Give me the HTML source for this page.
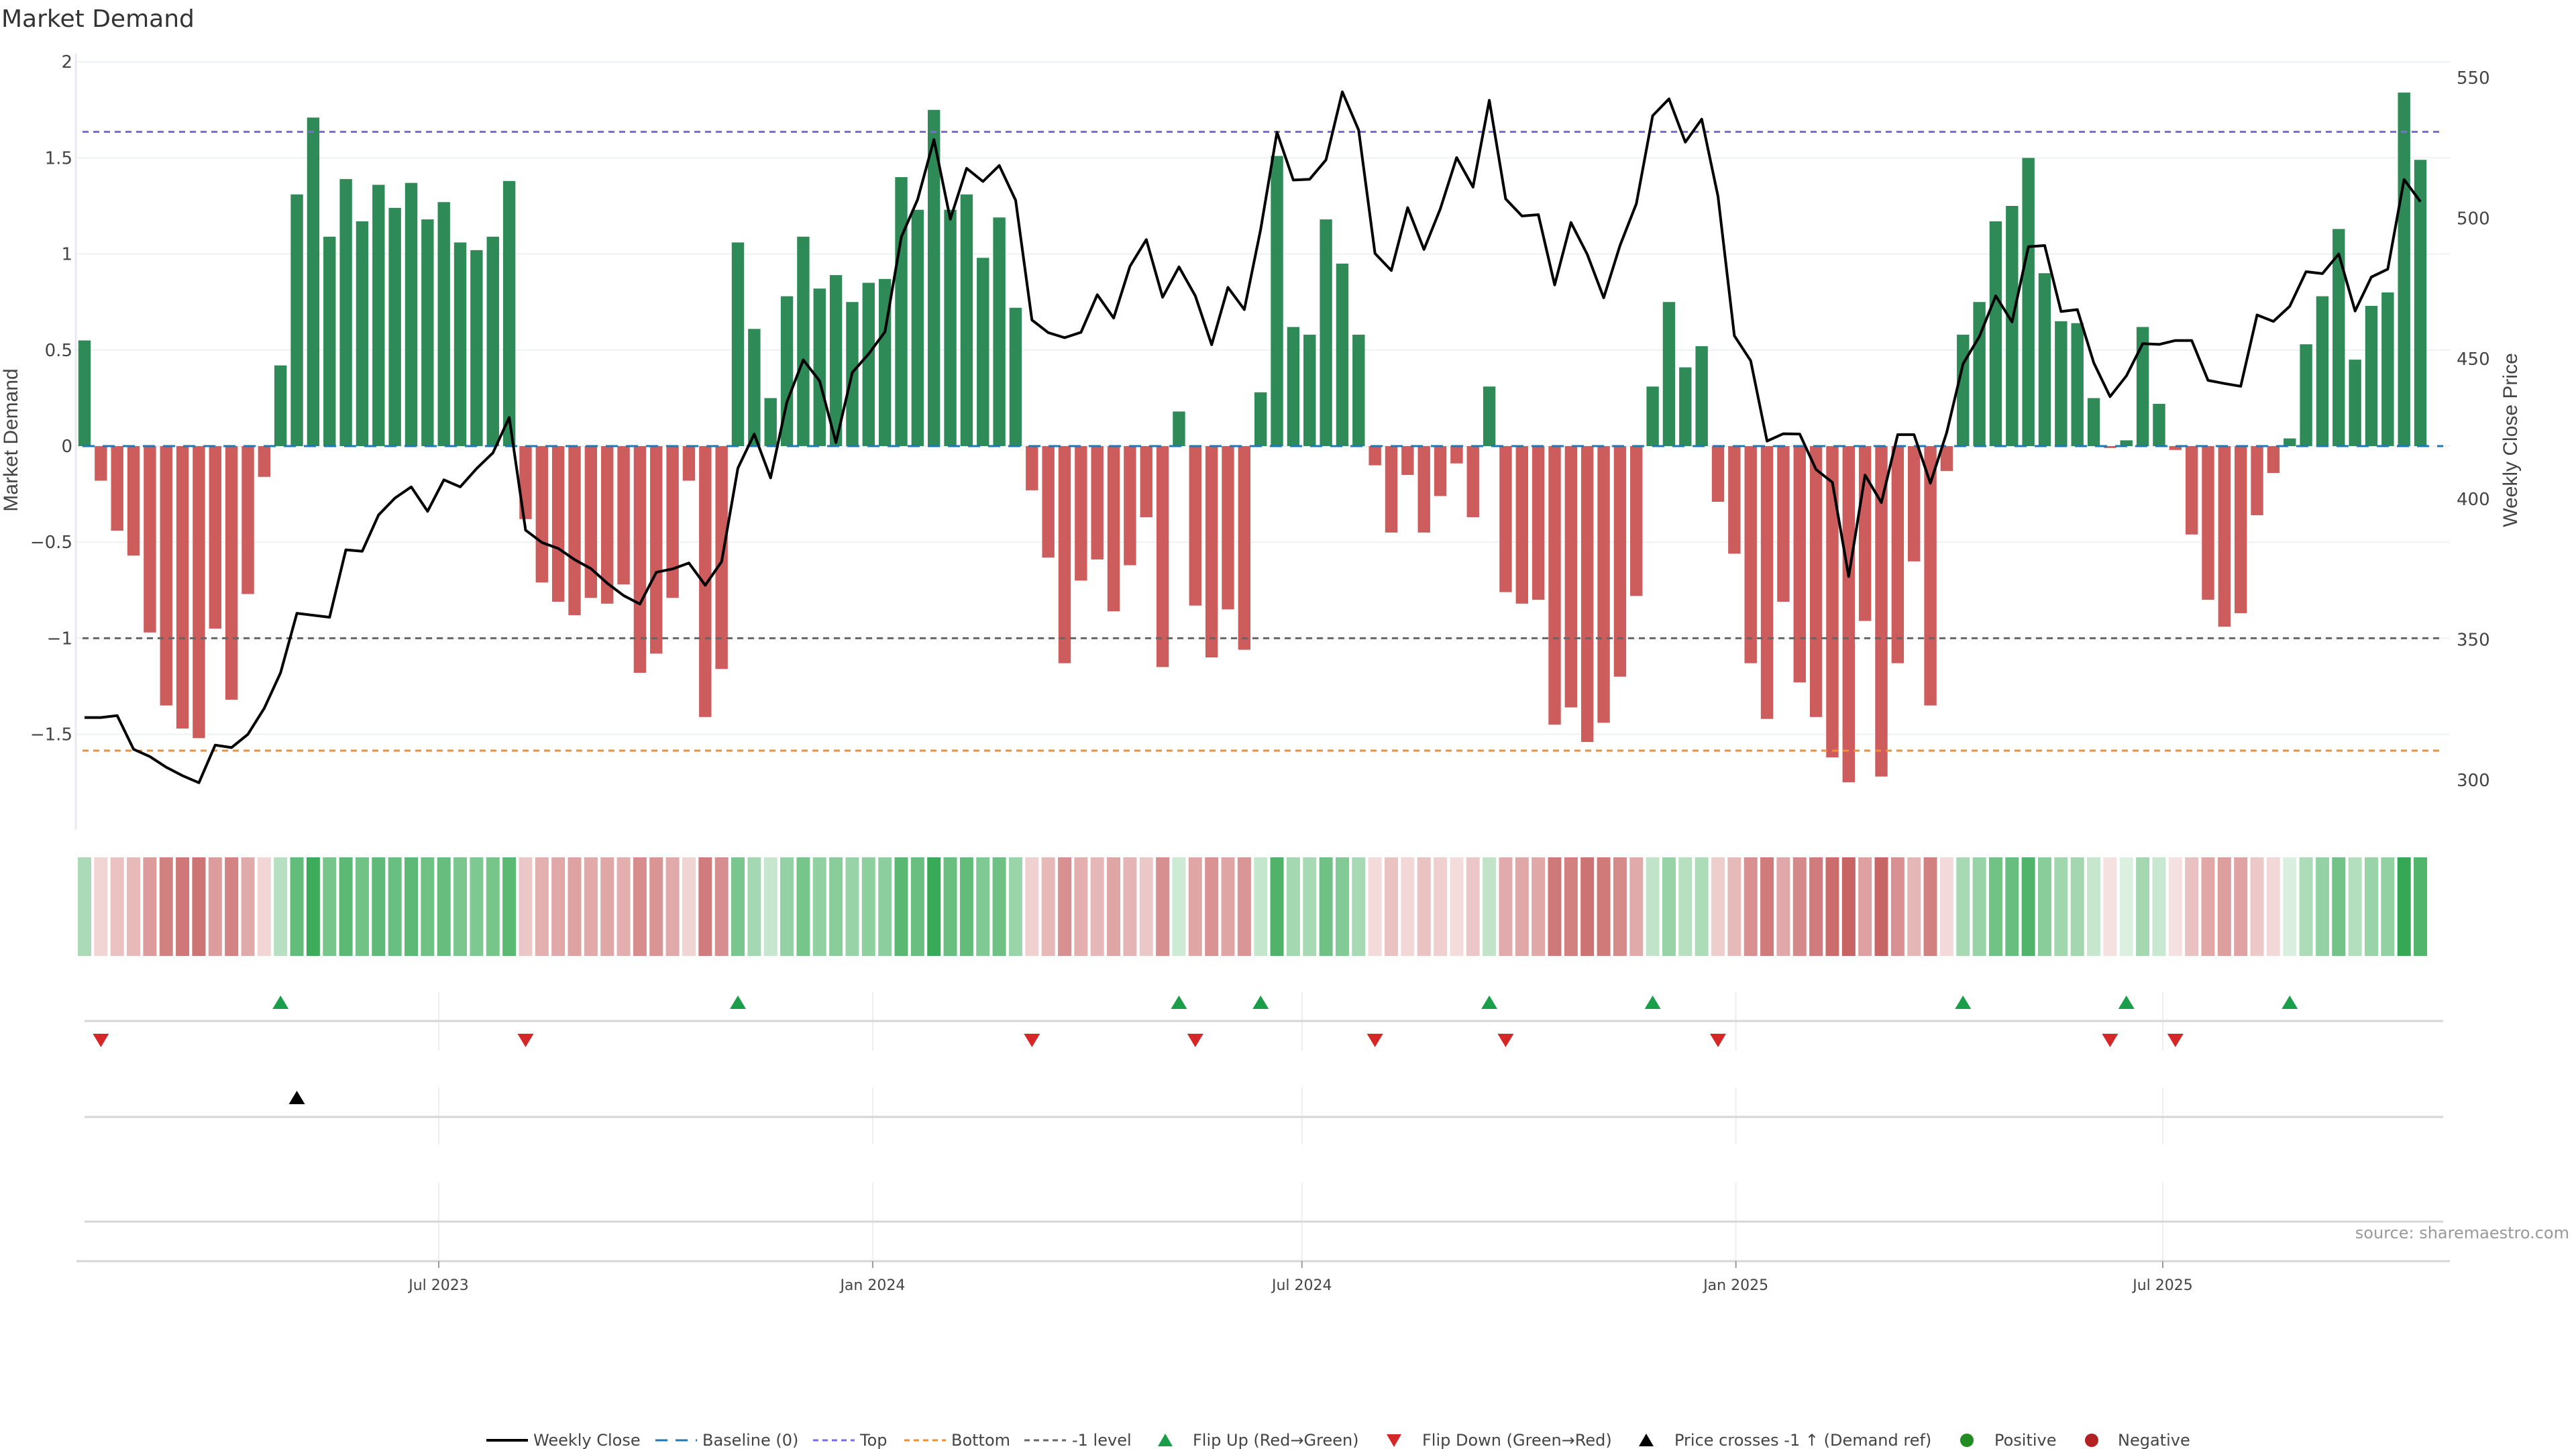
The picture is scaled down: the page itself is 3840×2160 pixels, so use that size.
<!DOCTYPE html>
<html><head><meta charset="utf-8"><style>
html,body{margin:0;padding:0;background:#fff;}
svg{display:block;font-family:"DejaVu Sans","Liberation Sans",sans-serif;}
</style></head><body>
<svg id="chart" width="3840" height="2160" viewBox="0 0 3840 2160" xmlns="http://www.w3.org/2000/svg">
<text x="2" y="40" font-size="36" fill="#333">Market Demand</text>
<g id="grid"></g><g id="bars"></g><g id="refs"></g><g id="line"></g><g id="axes"></g><g id="heat"></g><g id="markers"></g><g id="xaxis"></g><g id="legend"></g>
<text transform="translate(26,656) rotate(-90)" text-anchor="middle" font-size="30" fill="#444" font-family="Liberation Sans, sans-serif">Market Demand</text>
<text transform="translate(3752,656) rotate(-90)" text-anchor="middle" font-size="30" fill="#444" font-family="Liberation Sans, sans-serif">Weekly Close Price</text>
<text x="3830" y="1846" text-anchor="end" font-size="24" fill="#999">source: sharemaestro.com</text>
</svg>
<script>
const demand = [0.55,-0.18,-0.44,-0.57,-0.97,-1.35,-1.47,-1.52,-0.95,-1.32,-0.77,-0.16,
0.42,1.31,1.71,1.09,1.39,1.17,1.36,1.24,1.37,1.18,1.27,1.06,1.02,1.09,1.38,
-0.38,-0.71,-0.81,-0.88,-0.79,-0.82,-0.72,-1.18,-1.08,-0.79,-0.18,-1.41,-1.16,
1.06,0.61,0.25,0.78,1.09,0.82,0.89,0.75,0.85,0.87,1.40,1.23,1.75,1.23,1.31,0.98,1.19,0.72,
-0.23,-0.58,-1.13,-0.70,-0.59,-0.86,-0.62,-0.37,-1.15,0.18,-0.83,-1.10,-0.85,-1.06,
0.28,1.51,0.62,0.58,1.18,0.95,0.58,
-0.10,-0.45,-0.15,-0.45,-0.26,-0.09,-0.37,
0.31,
-0.76,-0.82,-0.80,-1.45,-1.36,-1.54,-1.44,-1.20,-0.78,
0.31,0.75,0.41,0.52,
-0.29,-0.56,-1.13,-1.42,-0.81,-1.23,-1.41,-1.62,-1.75,-0.91,-1.72,-1.13,-0.60,-1.35,-0.13,
0.58,0.75,1.17,1.25,1.50,0.90,0.65,0.64,0.25,
-0.01,
0.03,0.62,0.22,
-0.02,-0.46,-0.80,-0.94,-0.87,-0.36,-0.14,
0.04,0.53,0.78,1.13,0.45,0.73,0.80,1.84,1.49];
const closePrice = [322.3,322.3,323,311,308.4,304.6,301.6,299.1,312.5,311.6,316.3,325.6,
338.2,359.4,358.7,358,382,381.5,394.4,400.4,404.4,395.7,406.9,404.4,410.9,416.5,429.1,
389,384.6,382.5,378.5,375.3,370.1,365.7,362.7,374,
375.2,377.3,369.4,377.8,411.1,423.2,407.6,434.6,449.6,442.1,420.2,445.1,451.7,459.6,493.3,506.7,528,499.7,517.8,513.1,518.8,506.4,463.8,459.3,457.5,459.4,472.8,464.5,482.9,492.4,471.9,482.7,472.4,455,475.4,467.5,496,
530.6,513.6,513.9,520.8,545,531.4,487.5,481.4,503.8,488.9,503.4,521.6,511.1,542,506.9,500.8,501.3,476.3,498.5,487.1,471.7,490.3,505.2,536.5,542.5,527.1,535.3,507.8,458.2,449.3,420.7,423.3,423.2,410.6,406,372.5,
408.6,398.8,423,423,405.7,423.7,448.2,457.9,472.4,463.1,489.9,490.3,466.8,467.5,448.6,436.5,443.9,455.4,455.1,456.5,456.5,442.3,441.2,440.2,465.6,463.3,468.7,481,480.3,487.3,467,479.1,481.9,513.8,505.9];
const leftTicks = [2,1.5,1,0.5,0,-0.5,-1,-1.5];
const leftTickLabels = ["2","1.5","1","0.5","0","\u22120.5","\u22121","\u22121.5"];
const rightTicks = [550,500,450,400,350,300];
const refLevels = [1.636,-1.585,-1];
const crossIdx = [13];
const dateTicks = ["2023-07-01","2024-01-01","2024-07-01","2025-01-01","2025-07-01"];
const dateTickLabels = ["Jul 2023","Jan 2024","Jul 2024","Jan 2025","Jul 2025"];

const NS="http://www.w3.org/2000/svg";
function mk(parent,tag,attrs,text){const e=document.createElementNS(NS,tag);for(const k in attrs)e.setAttribute(k,attrs[k]);if(text!==undefined)e.textContent=text;document.getElementById(parent).appendChild(e);return e;}
const X0=113,X1=3652,first=126,step=24.35,BW=18.4;
const xi=i=>first+i*step;
const yL=v=>665-286.4*v;
const yR=p=>116+(550-p)*4.188;
const xd=d=>654+((new Date(d)-new Date("2023-07-01"))/86400000)*(3224-654)/731;

// grid + left ticks
leftTicks.forEach((v,k)=>{
  let g=mk("grid","line",{x1:X0,x2:X1,y1:yL(v),y2:yL(v),stroke:"#eef0f4","stroke-width":2});
  
  
  let t=mk("axes","text",{x:108,y:yL(v)+9,"text-anchor":"end","font-size":26,fill:"#444"},leftTickLabels[k]);
  
  
});
let ax=mk("axes","line",{x1:X0,x2:X0,y1:80,y2:1237,stroke:"#e8eaf0","stroke-width":3});


rightTicks.forEach(p=>{
  let t=mk("axes","text",{x:3662,y:yR(p)+9,"font-size":26,fill:"#444"},String(p));
  
  
});
// bars
demand.forEach((v,i)=>{
  const y0=yL(0),y1=yL(v);
  let r=mk("bars","rect",{x:xi(i)-BW/2,y:Math.min(y0,y1),width:BW,height:Math.abs(y1-y0),fill:v>=0?"#2e8b57":"#cd5c5c"});
  
  
});
let base=mk("refs","line",{x1:X0+10,x2:X1-10,y1:yL(0),y2:yL(0),stroke:"#1f77b4","stroke-width":3,"stroke-dasharray":"18 12"});


const refColors=["#7b68ee","#f28e2b","#666"];
const refNames=["top-level-line","bottom-level-line","minus-one-level-line"];
refLevels.forEach((v,k)=>{
  let l=mk("refs","line",{x1:X0+10,x2:X1-10,y1:yL(v),y2:yL(v),stroke:refColors[k],"stroke-width":3,"stroke-dasharray":"9 7"});
  
  
});
// price line
let pts=closePrice.map((p,i)=>xi(i).toFixed(1)+","+yR(p).toFixed(1)).join(" ");
let pl=mk("line","polyline",{points:pts,fill:"none",stroke:"#000","stroke-width":4,"stroke-linejoin":"round"});


// heatmap strip
function lerp(a,b,t){return a.map((c,j)=>Math.round(c+(b[j]-c)*t));}
demand.forEach((v,i)=>{
  const t=Math.min(Math.abs(v)/1.8,1);
  const c=v>=0?lerp([222,241,226],[52,168,83],t):lerp([246,226,226],[198,96,96],t);
  let r=mk("heat","rect",{x:xi(i)-10,y:1278,width:20,height:147,fill:"rgb("+c.join(",")+")"});
  
  
});
// marker panels
[[1479,1566,1522],[1621,1706,1665],[1763,1880,1821]].forEach(p=>{
  dateTicks.forEach(d=>{
    let g=mk("markers","line",{x1:xd(d),x2:xd(d),y1:p[0],y2:p[1],stroke:"#eee","stroke-width":2});
    
    
  });
  let l=mk("markers","line",{x1:126,x2:3642,y1:p[2],y2:p[2],stroke:"#d6d6d6","stroke-width":3});
  
  
});
function tri(x,y,up,color,name){
  const s=12;
  const pts=up?`${x-s},${y+10} ${x+s},${y+10} ${x},${y-10}`:`${x-s},${y-10} ${x+s},${y-10} ${x},${y+10}`;
  let e=mk("markers","polygon",{points:pts,fill:color});
  
  
}
for(let i=1;i<demand.length;i++){
  const a=demand[i-1]>=0,b=demand[i]>=0;
  if(!a&&b) tri(xi(i),1494,true,"#1a9e4a","flip-up-marker");
  if(a&&!b) tri(xi(i),1551,false,"#d62728","flip-down-marker");
}
crossIdx.forEach(i=>tri(xi(i),1636,true,"#000","price-cross-marker"));
// x axis
let xa=mk("xaxis","line",{x1:114,x2:3652,y1:1880,y2:1880,stroke:"#d6d6d6","stroke-width":3});


dateTicks.forEach((d,k)=>{
  let tk=mk("xaxis","line",{x1:xd(d),x2:xd(d),y1:1880,y2:1890,stroke:"#999","stroke-width":2});
  
  
  let t=mk("xaxis","text",{x:xd(d),y:1923,"text-anchor":"middle","font-size":22,fill:"#444"},dateTickLabels[k]);
  
  
});
// legend
const LY=2147;
function legText(x,s){let t=mk("legend","text",{x:x,y:LY+8,"font-size":24,fill:"#444"},s);}
function legLine(x,color,dash,w,name){let l=mk("legend","line",{x1:x,x2:x+62,y1:LY,y2:LY,stroke:color,"stroke-width":w,"stroke-dasharray":dash});}
legLine(725,"#000","none",4,"legend-weekly-close");legText(795,"Weekly Close");
legLine(977,"#1f77b4","18 12",3,"legend-baseline");legText(1047,"Baseline (0)");
legLine(1212,"#7b68ee","8 6",3,"legend-top");legText(1282,"Top");
legLine(1348,"#f28e2b","8 6",3,"legend-bottom");legText(1418,"Bottom");
legLine(1527,"#666","8 6",3,"legend-minus-one");legText(1598,"-1 level");
function legTri(x,up,color,name){const y=LY;const pts=up?`${x-11},${y+9} ${x+11},${y+9} ${x},${y-10}`:`${x-11},${y-9} ${x+11},${y-9} ${x},${y+10}`;let e=mk("legend","polygon",{points:pts,fill:color});}
legTri(1737,true,"#1a9e4a","legend-flip-up");legText(1778,"Flip Up (Red\u2192Green)");
legTri(2078,false,"#d62728","legend-flip-down");legText(2120,"Flip Down (Green\u2192Red)");
legTri(2454,true,"#000","legend-price-cross");legText(2496,"Price crosses -1 \u2191 (Demand ref)");
let c1=mk("legend","circle",{cx:2932,cy:LY,r:10,fill:"#228b22"});
legText(2973,"Positive");
let c2=mk("legend","circle",{cx:3118,cy:LY,r:10,fill:"#b22222"});
legText(3157,"Negative");
</script>
</body></html>
